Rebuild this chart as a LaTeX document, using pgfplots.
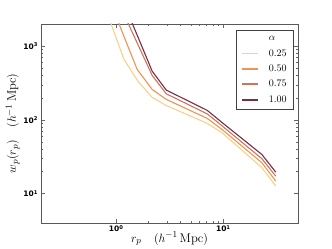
\documentclass[border=0pt]{standalone}
\usepackage{fontspec}
\usepackage{pgfplots}
\pgfplotsset{compat=1.18}
\newfontfamily\tickfont{DejaVu Sans}
\definecolor{cA}{RGB}{250,208,138}
\definecolor{cB}{RGB}{238,146,86}
\definecolor{cC}{RGB}{204,116,92}
\definecolor{cD}{RGB}{118,48,70}
\newcommand{\tl}[1]{{\tickfont\bfseries\fontsize{7.5}{8}\selectfont 10\raisebox{2.6pt}{\fontsize{5.2}{6}\selectfont #1}}}
\begin{document}
\begin{tikzpicture}
\path[use as bounding box] (-41pt,-26pt) rectangle (291pt,223pt);
\begin{axis}[
  scale only axis, width=257pt, height=199pt,
  xmode=log, ymode=log,
  xmin=0.2, xmax=50, ymin=4, ymax=2000,
  xtick={1,10}, xticklabels={\tl{0},\tl{1}},
  ytick={10,100,1000}, yticklabels={\tl{1},\tl{2},\tl{3}},
  tick align=inside,
  axis line style={black!65, line width=0.8pt},
  every tick/.style={black!60},
  major tick length=4pt, minor tick length=2pt,
  xticklabel style={yshift=1pt},
  xlabel={$r_p\quad(h^{-1}\,\mathrm{Mpc})$},
  ylabel={$w_p(r_p)\quad(h^{-1}\,\mathrm{Mpc})$},
  label style={font=\fontsize{12.6}{15}\selectfont},
  xlabel style={yshift=7pt},
  ylabel style={yshift=-3pt},
  clip=true,
  legend style={at={(0.985,0.97)}, anchor=north east, draw=black!75, line width=0.8pt,
    font=\normalsize, row sep=3.2pt, inner xsep=5pt, inner ysep=4pt},
  legend cell align=left,
  legend image code/.code={\draw[#1, line width=1.8pt] (0pt,0pt) -- (16pt,0pt); \path (24pt,0pt);},
]
\addlegendimage{empty legend}
\addlegendentry{$\alpha$}
\addplot[color=cA, draw=cA, line width=1.1pt] coordinates {(0.87,2300) (1.19,660) (1.61,333) (2.18,202) (2.95,157) (7.1,90) (9.8,67) (23,22.5) (31,12.7)};
\addlegendentry{0.25}
\addplot[color=cB, draw=cB, line width=1.1pt] coordinates {(0.87,4300) (1.19,1350) (1.58,483) (2.18,259) (2.95,190) (7.1,105) (9.8,74) (23,26.3) (31,14.8)};
\addlegendentry{0.50}
\addplot[color=cC, draw=cC, line width=1.1pt] coordinates {(1.19,2700) (1.61,1040) (2.18,401) (2.95,226) (7.1,121) (9.8,83) (23,29.8) (31,17.3)};
\addlegendentry{0.75}
\addplot[color=cD, draw=cD, line width=1.1pt] coordinates {(1.19,3750) (1.61,1320) (2.18,458) (2.95,254) (7.1,135) (9.8,92) (23,34) (31,19.6)};
\addlegendentry{1.00}
\end{axis}
\end{tikzpicture}
\end{document}
